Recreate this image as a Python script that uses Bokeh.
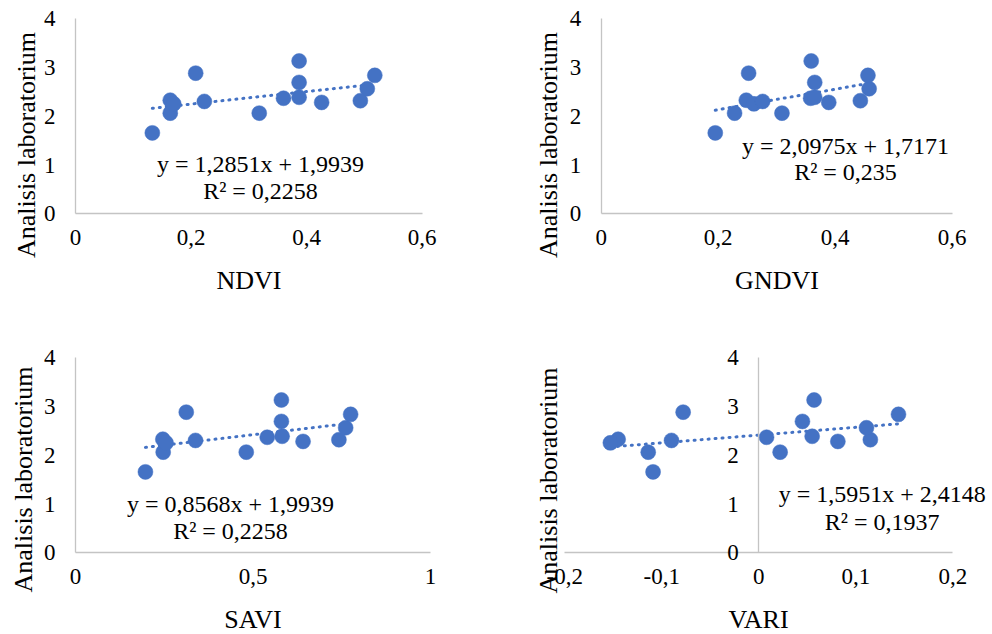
from bokeh.plotting import figure
from bokeh.layouts import column, row
from bokeh.models import LinearAxis, FixedTicker, Label, Range1d
from bokeh.embed import file_html
from bokeh.resources import INLINE

# Laboratory analysis values for the 15 samples (same order in every panel)
lab = [1.66, 2.065, 2.33, 2.255, 2.885, 2.305, 2.065, 2.37, 3.135, 2.695, 2.39, 2.285, 2.32, 2.565, 2.84]

# Vegetation index values of the same samples
ndvi = [0.133, 0.164, 0.164, 0.170, 0.208, 0.223, 0.318, 0.360, 0.387, 0.387, 0.387, 0.426, 0.493, 0.505, 0.518]
gndvi = [0.195, 0.228, 0.248, 0.261, 0.252, 0.276, 0.309, 0.358, 0.359, 0.365, 0.365, 0.389, 0.443, 0.458, 0.456]
savi = [0.197, 0.247, 0.246, 0.255, 0.312, 0.338, 0.481, 0.540, 0.580, 0.580, 0.582, 0.641, 0.742, 0.761, 0.775]
vari = [-0.109, -0.114, -0.145, -0.153, -0.078, -0.090, 0.022, 0.008, 0.057, 0.045, 0.055, 0.0815, 0.115, 0.111, 0.144]

# Linear trend lines: slope, intercept, R²
ndvi_fit = (1.2851, 1.9939, 0.2258)
gndvi_fit = (2.0975, 1.7171, 0.235)
savi_fit = (0.8568, 1.9939, 0.2258)
vari_fit = (1.5951, 2.4148, 0.1937)

# Axis ticks and their labels
y_ticks = [0, 1, 2, 3, 4]
y_tick_labels = ["0", "1", "2", "3", "4"]
x_ticks_06 = [0, 0.2, 0.4, 0.6]
x_tick_labels_06 = ["0", "0,2", "0,4", "0,6"]
x_ticks_savi = [0, 0.5, 1]
x_tick_labels_savi = ["0", "0,5", "1"]
x_ticks_vari = [-0.2, -0.1, 0, 0.1, 0.2]
x_tick_labels_vari = ["-0,2", "-0,1", "0", "0,1", "0,2"]

y_title = "Analisis laboratorium"

FONT = "Liberation Serif"
BLUE = "#4472C4"
AXIS_GREY = "#c4c4c4"
PX_PER_Y = 48.75          # vertical scale shared by all panels (px per unit)


def num(v):
    return f"{v}".replace(".", ",")


def style_axis(ax, ticks, labels, standoff, title_standoff):
    ax.ticker = FixedTicker(ticks=ticks)
    ax.major_label_overrides = {t: l for t, l in zip(ticks, labels)}
    ax.major_label_text_font = FONT
    ax.major_label_text_font_size = "23px"
    ax.major_label_text_color = "black"
    ax.major_label_standoff = standoff
    ax.major_tick_in = 0
    ax.major_tick_out = 0
    ax.minor_tick_in = 0
    ax.minor_tick_out = 0
    ax.major_tick_line_color = None
    ax.minor_tick_line_color = None
    ax.axis_line_color = AXIS_GREY
    ax.axis_line_width = 1.3
    ax.axis_label_text_font = FONT
    ax.axis_label_text_font_size = "26px"
    ax.axis_label_text_font_style = "normal"
    ax.axis_label_text_color = "black"
    ax.axis_label_standoff = title_standoff


def panel(xs, x_name, x_lim, x_ticks, x_labels, fit, size, origin, px_per_x,
          title_px, eq_px):
    """Scatter panel whose axes cross at the origin.

    The plotting frame spans the whole figure; `origin` is the pixel position
    of (0, 0) inside the figure, so axes, labels and text are never clipped.
    """
    w, h = size
    ox, oy = origin
    x_range = Range1d(-ox / px_per_x, (w - ox) / px_per_x)
    y_range = Range1d((oy - h) / PX_PER_Y, oy / PX_PER_Y)

    def to_x(px):
        return (px - ox) / px_per_x

    def to_y(py):
        return (oy - py) / PX_PER_Y

    p = figure(width=w, height=h, output_backend="svg", toolbar_location=None,
               x_range=x_range, y_range=y_range,
               min_border_left=0, min_border_right=0,
               min_border_top=0, min_border_bottom=0)
    p.outline_line_color = None
    p.xgrid.grid_line_color = None
    p.ygrid.grid_line_color = None
    p.background_fill_color = "white"
    p.border_fill_color = "white"

    xa = p.xaxis[0]
    style_axis(xa, x_ticks, x_labels, 16, 18)
    xa.fixed_location = 0
    xa.bounds = x_lim
    xa.axis_label = x_name

    ya = p.yaxis[0]
    style_axis(ya, y_ticks, y_tick_labels, 20, 0)
    ya.fixed_location = 0
    ya.bounds = (0, 4)

    # vertical title of the lab values, set apart at the left edge
    tx, ty = title_px
    title_axis = LinearAxis(ticker=FixedTicker(ticks=[]))
    style_axis(title_axis, [], [], 0, 0)
    title_axis.axis_line_color = None
    title_axis.fixed_location = to_x(tx + 15)
    title_axis.bounds = (to_y(ty) - 3, to_y(ty) + 3)
    title_axis.axis_label = y_title
    p.add_layout(title_axis, "left")

    slope, intercept, r2 = fit
    x0, x1 = min(xs), max(xs)
    p.line([x0, x1], [slope * x0 + intercept, slope * x1 + intercept],
           line_color=BLUE, line_width=3, line_dash="1 6", line_cap="round")
    p.scatter(xs, lab, size=15, fill_color=BLUE, line_color=BLUE, line_width=0.5)

    ex, ey1, ey2 = eq_px
    for txt, yy in ((f"y = {num(slope)}x + {num(intercept)}", ey1),
                    (f"R² = {num(r2)}", ey2)):
        p.add_layout(Label(x=to_x(ex), y=to_y(yy), text=txt, text_align="center",
                           text_baseline="middle", text_font=FONT,
                           text_font_size="24px", text_color="black"))
    return p


p1 = panel(ndvi, "NDVI", (0, 0.6), x_ticks_06, x_tick_labels_06, ndvi_fit,
           (520, 317), (75, 213.3), 577.8, (25, 142.5), (260, 163, 190))
p2 = panel(gndvi, "GNDVI", (0, 0.6), x_ticks_06, x_tick_labels_06, gndvi_fit,
           (472, 317), (80.7, 213.3), 585, (27, 142.5), (325, 145, 171.7))
p3 = panel(savi, "SAVI", (0, 1), x_ticks_savi, x_tick_labels_savi, savi_fit,
           (520, 317), (75, 235.3), 355, (22, 162), (230, 186.3, 213))
p4 = panel(vari, "VARI", (-0.2, 0.2), x_ticks_vari, x_tick_labels_vari, vari_fit,
           (472, 317), (238.3, 235.3), 970, (27, 163), (361.7, 176.3, 204.7))

layout = column(row(p1, p2, spacing=0), row(p3, p4, spacing=0), spacing=0)

with open("out.html", "w") as f:
    f.write(file_html(layout, INLINE))
